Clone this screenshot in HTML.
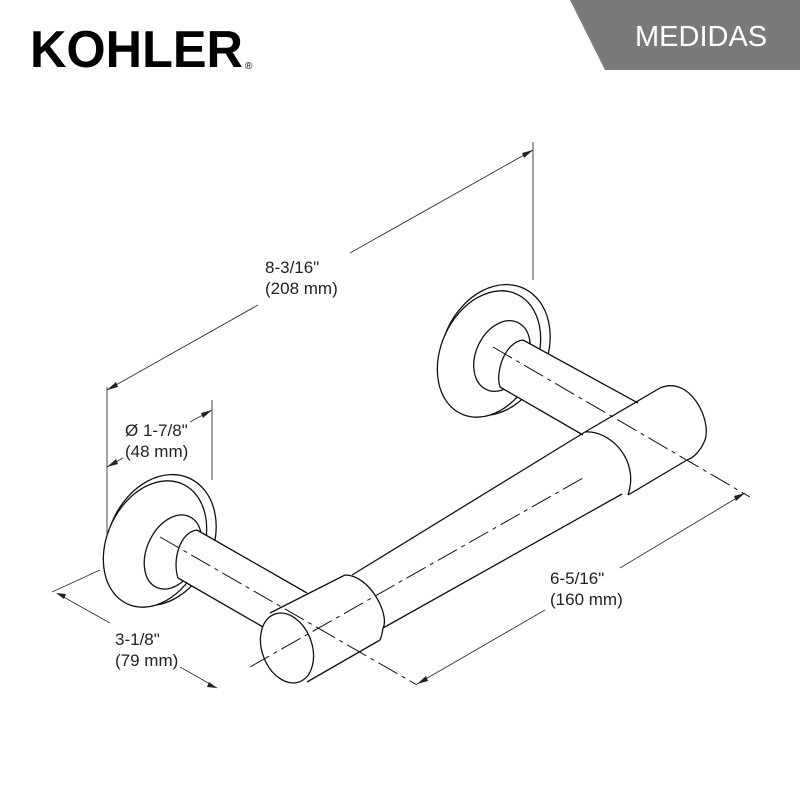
<!DOCTYPE html>
<html><head><meta charset="utf-8"><style>
html,body{margin:0;padding:0;background:#fff;}
svg{display:block;}
text{font-family:"Liberation Sans",Arial,sans-serif;fill:#222;}
</style></head><body>
<svg width="800" height="800" viewBox="0 0 800 800" xmlns="http://www.w3.org/2000/svg">
<!-- header -->
<text x="30" y="67" font-size="52" font-weight="bold" style="fill:#000" textLength="213" lengthAdjust="spacingAndGlyphs">KOHLER</text>
<text x="245" y="69" font-size="10" style="fill:#000">®</text>
<polygon points="570,0 800,0 800,70 605,70" fill="#7a7a7a"/>
<text x="635" y="46" font-size="29" style="fill:#fff">MEDIDAS</text>

<g fill="none" stroke="#111" stroke-width="1.3">
<!-- left flange -->
<ellipse cx="161" cy="540" rx="52" ry="68" transform="rotate(25 161 540)" fill="#fff"/>
<ellipse cx="155" cy="544" rx="48" ry="66" transform="rotate(25 155 544)" fill="#fff"/>
<ellipse cx="173" cy="552" rx="26" ry="39" transform="rotate(25 173 552)"/>
<!-- left post -->
<path d="M197,530 L307,593 L263,627 L178,578 C172,560 180,532 197,530 Z" fill="#fff" stroke="none"/>
<path d="M197,530 L307,593 M178,578 L263,627"/>
<path d="M197,530 C180,532 172,560 178,578"/>
<!-- right flange -->
<ellipse cx="495" cy="350" rx="52" ry="68" transform="rotate(25 495 350)" fill="#fff"/>
<ellipse cx="489" cy="354" rx="48" ry="66" transform="rotate(25 489 354)" fill="#fff"/>
<ellipse cx="502" cy="356" rx="26" ry="37" transform="rotate(25 502 356)"/>
<!-- right post -->
<path d="M523,340 L640,404 L590,436 L500,387 C495,372 505,342 523,340 Z" fill="#fff" stroke="none"/>
<path d="M523,340 L638,403 M500,387 L583,435"/>
<path d="M523,340 C505,342 495,372 500,387"/>
<!-- bar main -->
<path d="M352,575 L585,432 M383,628 L622,494"/>
<!-- right sleeve -->
<path d="M585,432 L660,388 M628,495 L687,460"/>
<path d="M585,432 C610,430 640,460 628,495"/>
<path d="M660,388 C690,375 712,420 705,440 C700,452 693,458 687,460"/>
<!-- left sleeve -->
<path d="M270,613 L345,575 M307,682 L380,640"/>
<path d="M345,575 C370,575 390,615 383,628 C382,635 381,638 380,640"/>
<ellipse cx="287" cy="648" rx="25" ry="36" transform="rotate(-20 287 648)" fill="#fff"/>
</g>
<!-- centerlines -->
<g fill="none" stroke="#111" stroke-width="1" stroke-dasharray="22,5,4,5">
<path d="M160,537 L417,685"/>
<path d="M493,347 L750,497"/>
<path d="M250,667 L583,478"/>
</g>
<!-- dimension lines -->
<g fill="none" stroke="#333" stroke-width="0.9">
<path d="M107,387 L107,535 M533,142 L533,280"/>
<path d="M107,390 L258,305 M350,253 L533,150"/>
<path d="M212,400 L212,480"/>
<path d="M212,410 L190,422 M123,458 L107,467"/>
<path d="M52,592 L100,570"/>
<path d="M60,595 L110,623 M180,667 L217,688"/>
<path d="M417,684 L545,610 M620,568 L745,493"/>
</g>
<g fill="#222">
<polygon points="107,390 116,382 118,387"/>
<polygon points="533,150 524,158 522,153"/>
<polygon points="212,410 203,418 201,413"/>
<polygon points="107,467 116,459 118,464"/>
<polygon points="56,593 66,594 64,599"/>
<polygon points="217,688 207,687 209,682"/>
<polygon points="417,684 426,676 428,681"/>
<polygon points="745,493 736,501 734,496"/>
</g>
<g font-size="17">
<text x="265" y="273">8-3/16"</text>
<text x="265" y="294">(208 mm)</text>
<text x="125" y="436">Ø 1-7/8"</text>
<text x="125" y="457">(48 mm)</text>
<text x="115" y="645">3-1/8"</text>
<text x="115" y="666">(79 mm)</text>
<text x="550" y="584">6-5/16"</text>
<text x="550" y="605">(160 mm)</text>
</g>
</svg>
</body></html>
